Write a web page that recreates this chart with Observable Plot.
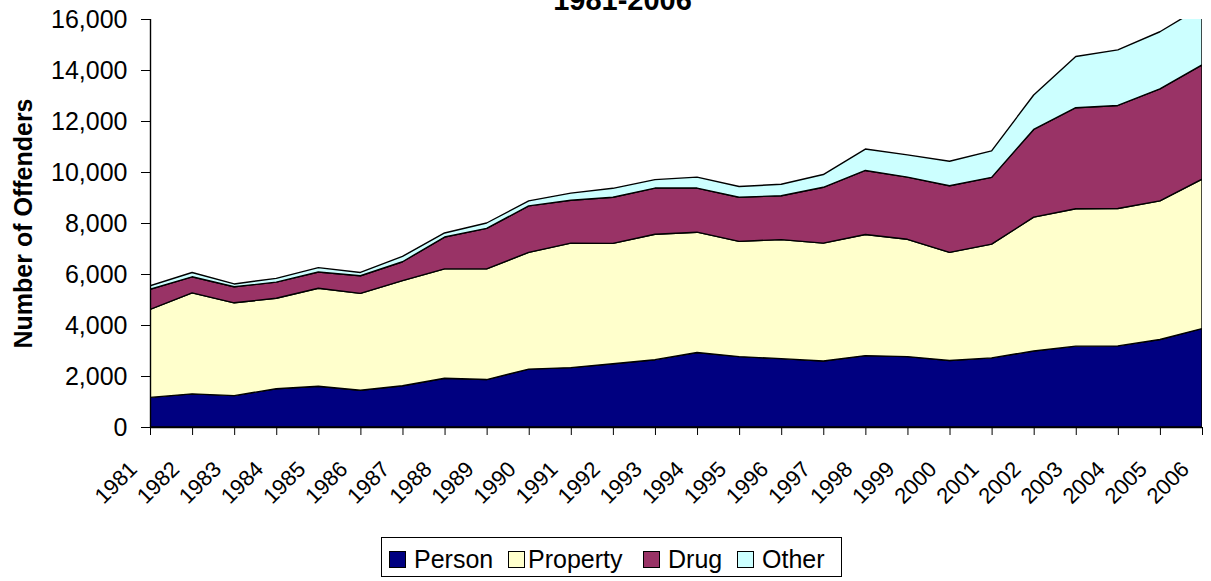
<!DOCTYPE html>
<html>
<head>
<meta charset="utf-8">
<script src="https://cdn.jsdelivr.net/npm/d3@7"></script>
<script src="https://cdn.jsdelivr.net/npm/@observablehq/plot@0.6"></script>
<style>
  body { margin: 0; background: #fff; font-family: "Liberation Sans", Arial, sans-serif; }
  #wrap { position: relative; width: 1211px; height: 581px; overflow: hidden; background: #fff; }
  #legend { position: absolute; left: 381px; top: 537px; width: 461px; height: 40px; border: 1px solid #000; box-sizing: border-box; }
  .sw { position: absolute; top: 551px; width: 17px; height: 17px; border: 1px solid #000; box-sizing: border-box; }
  .lt { position: absolute; top: 547px; font-size: 25px; line-height: 25px; color: #000; white-space: nowrap; }
</style>
</head>
<body>
<div id="wrap">
  <div id="chart"></div>
  <div id="legend"></div>
</div>
<script>
const years = [1981,1982,1983,1984,1985,1986,1987,1988,1989,1990,1991,1992,1993,1994,1995,1996,1997,1998,1999,2000,2001,2002,2003,2004,2005,2006];
const person   = [1160,1300,1230,1500,1600,1440,1620,1910,1860,2270,2330,2480,2640,2920,2760,2680,2590,2800,2760,2610,2710,2980,3170,3180,3430,3860];
const property = [3450,3960,3640,3550,3840,3800,4120,4290,4340,4580,4880,4720,4920,4720,4520,4670,4620,4750,4600,4240,4460,5250,5390,5390,5440,5860];
const drug     = [790,630,630,630,640,690,740,1250,1590,1820,1680,1810,1810,1730,1730,1720,2190,2510,2440,2610,2620,3440,3960,4040,4390,4480];
const other    = [140,170,110,150,170,130,210,160,210,200,280,350,330,430,420,450,500,840,870,960,1040,1350,2010,2180,2240,2290];
const seriesNames = ["Person", "Property", "Drug", "Other"];
const seriesColors = ["#000080", "#FFFFCC", "#993366", "#CCFFFF"];
const yTicks = [0, 2000, 4000, 6000, 8000, 10000, 12000, 14000, 16000];
const titleText = "1981-2006";
const yTitle = "Number of Offenders";

const seriesValues = [person, property, drug, other];
const data = [];
seriesNames.forEach((s, i) => {
  years.forEach((yr, j) => data.push({year: yr, series: s, value: seriesValues[i][j]}));
});

const font = '"Liberation Sans", Arial, sans-serif';
const chart = Plot.plot({
  width: 1211,
  height: 530,
  marginLeft: 150,
  marginRight: 9,
  marginTop: 19,
  marginBottom: 103,
  style: {fontFamily: font, background: "white", color: "black"},
  x: {domain: [1981, 2006]},
  y: {domain: [0, 16000]},
  color: {domain: seriesNames, range: seriesColors},
  marks: [
    Plot.areaY(data, {x: "year", y: "value", z: "series", fill: "series", order: seriesNames, stroke: "black", strokeWidth: 1.4, clip: true}),
    Plot.ruleY([0], {stroke: "black", strokeWidth: 1.4}),
    Plot.ruleX([1981], {stroke: "black", strokeWidth: 1.4}),
    Plot.axisX({ticks: years, tickSize: 8, tickFormat: () => "", label: null}),
    Plot.axisX({ticks: years, tickFormat: d => String(d), tickRotate: -45, tickSize: 0, tickPadding: 38, dx: -17, fontSize: 22, label: null}),
    Plot.axisY({ticks: yTicks, tickFormat: d3.format(","), tickSize: 9, tickPadding: 14, fontSize: 25, label: null}),
    Plot.text([yTitle], {text: d => d, frameAnchor: "left", textAnchor: "middle", dx: -127, rotate: -90, fontWeight: "bold", fontSize: 25}),
    Plot.text([titleText], {text: d => d, frameAnchor: "top", dx: -54, dy: -10, lineAnchor: "bottom", fontWeight: "bold", fontSize: 29})
  ]
});
document.getElementById("chart").appendChild(chart);

const wrap = document.getElementById("wrap");
const swLeft = [389, 508, 643, 737];
const txLeft = [414, 528, 668, 762];
seriesNames.forEach((s, i) => {
  const sw = document.createElement("div");
  sw.className = "sw";
  sw.style.left = swLeft[i] + "px";
  sw.style.background = seriesColors[i];
  wrap.appendChild(sw);
  const t = document.createElement("div");
  t.className = "lt";
  t.style.left = txLeft[i] + "px";
  t.textContent = s;
  wrap.appendChild(t);
});
</script>
</body>
</html>
